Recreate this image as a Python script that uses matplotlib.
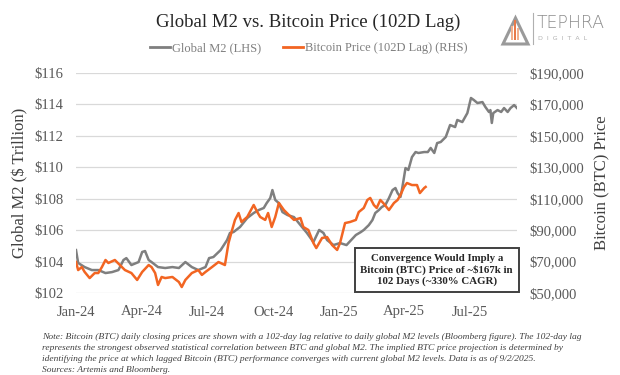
import numpy as np
import matplotlib
matplotlib.use("Agg")
import matplotlib.pyplot as plt
from matplotlib.lines import Line2D
from matplotlib.patches import Polygon, Rectangle
from matplotlib.ticker import FuncFormatter

plt.rcParams['font.family'] = 'serif'
plt.rcParams['font.serif'] = ['Liberation Serif', 'DejaVu Serif']

start = np.datetime64('2024-01-01')

# global M2, $ trillion (days since 2024-01-01)
m2_day = [0, 3, 12, 22, 31, 41, 50, 59, 66, 70, 77, 87, 92, 96, 101, 105, 114, 124,
          134, 143, 152, 161, 170, 180, 185, 191, 201, 210, 214, 219, 228, 238, 247,
          254, 261, 265, 270, 273, 277, 282, 287, 294, 303, 312, 321, 330, 338, 344,
          349, 358, 367, 376, 389, 396, 400, 407, 412, 416, 421, 425, 430, 435, 440,
          444, 447, 451, 453, 456, 458, 462, 467, 472, 476, 484, 489, 493, 498, 502,
          507, 514, 520, 527, 530, 537, 544, 549, 553, 558, 565, 569, 574, 576, 578,
          580, 586, 591, 595, 600, 604, 609, 613]
m2_val = [104.73, 103.91, 103.65, 103.46, 103.46, 103.27, 103.33, 103.46, 104.10, 104.22,
          103.78, 103.97, 104.61, 104.67, 104.10, 103.97, 103.65, 103.59, 103.65, 103.59,
          103.97, 103.65, 103.46, 103.65, 104.22, 104.29, 104.73, 105.37, 105.82, 105.88,
          106.20, 106.77, 107.09, 107.28, 107.41, 107.72, 108.04, 108.55, 107.92, 107.72,
          107.15, 106.96, 106.83, 106.32, 105.82, 105.24, 106.01, 105.82, 105.37, 105.05,
          105.18, 105.05, 105.69, 105.88, 106.01, 106.32, 106.64, 107.09, 107.28, 107.47,
          107.60, 108.04, 108.55, 108.68, 108.36, 108.11, 108.55, 109.38, 109.95, 109.83,
          110.65, 110.97, 110.91, 110.97, 110.97, 111.23, 110.91, 111.54, 111.61, 111.93,
          112.69, 112.56, 113.01, 112.88, 113.45, 114.41, 114.28, 114.09, 114.15, 113.84,
          113.52, 113.64, 112.82, 113.45, 113.64, 113.52, 113.77, 113.52, 113.77, 113.96,
          113.77]

# bitcoin price, 102-day lag, $
btc_day = [0, 3, 8, 12, 19, 26, 31, 36, 41, 45, 54, 61, 68, 77, 85, 92, 101, 105, 110,
           114, 119, 124, 134, 143, 147, 152, 161, 170, 175, 180, 189, 198, 201, 207,
           212, 217, 221, 226, 230, 238, 247, 252, 256, 263, 267, 272, 277, 282, 289,
           296, 303, 312, 316, 323, 330, 334, 342, 349, 356, 363, 367, 374, 381, 389,
           393, 400, 405, 409, 414, 418, 423, 427, 435, 442, 447, 451, 456, 460, 467,
           474, 478, 484, 486]
btc_val = [69700, 64600, 66500, 63400, 59500, 62700, 62700, 66500, 71000, 69100, 71000,
           67800, 64600, 62700, 58300, 63400, 67800, 66500, 62700, 55100, 60200, 59500,
           60200, 57000, 53800, 58300, 62700, 64600, 61500, 63400, 66500, 69700, 69100,
           67800, 81800, 90100, 96500, 100900, 95200, 98400, 106000, 101500, 98400,
           96500, 100900, 92000, 98400, 107300, 102800, 99600, 96500, 97700, 92000,
           90100, 81800, 78600, 85000, 85600, 80500, 77400, 81800, 94500, 95200, 96500,
           101500, 104100, 109200, 110500, 106000, 104100, 109200, 107300, 102800,
           107300, 109200, 112400, 117500, 120000, 118700, 118700, 113600, 116800, 117500]

tick_dates = ['2024-01-01', '2024-04-01', '2024-07-01', '2024-10-01',
              '2025-01-01', '2025-04-01', '2025-07-01']
tick_labels = ['Jan-24', 'Apr-24', 'Jul-24', 'Oct-24', 'Jan-25', 'Apr-25', 'Jul-25']

gray = '#7f7f7f'
orange = '#f26522'
txt = '#404040'

fig = plt.figure(figsize=(6.2, 3.75), dpi=100)
ax = fig.add_axes([76 / 620, 1 - 293 / 375, 441 / 620, 220 / 375])
ax2 = ax.twinx()

m2_x = start + np.array(m2_day).astype('timedelta64[D]')
btc_x = start + np.array(btc_day).astype('timedelta64[D]')

ax.plot(m2_x, m2_val, color=gray, lw=1.8, zorder=3)
ax2.plot(btc_x, btc_val, color=orange, lw=1.8, zorder=4)

ax.set_xlim(start, start + np.timedelta64(613, 'D'))
ax.set_ylim(102, 116)
ax.set_yticks(np.arange(102, 117, 2))
ax.yaxis.set_major_formatter(FuncFormatter(lambda v, p: '$%d' % v))
ax2.set_ylim(50000, 190000)
ax2.set_yticks(np.arange(50000, 190001, 20000))
ax2.yaxis.set_major_formatter(FuncFormatter(lambda v, p: '${:,.0f}'.format(v)))

ax.set_xticks(np.array(tick_dates, dtype='datetime64[D]'))
ax.set_xticklabels(tick_labels)

ax.grid(axis='y', color='#d9d9d9', lw=0.9)
ax.set_axisbelow(True)
for a in (ax, ax2):
    for s in a.spines.values():
        s.set_visible(False)
    a.tick_params(length=0, labelsize=10.5, labelcolor='#595959', pad=9)
ax.tick_params(axis='x', pad=9)

ax.set_ylabel('Global M2 ($ Trillion)', fontsize=12, color=txt, labelpad=4)
ax2.set_ylabel('Bitcoin (BTC) Price', fontsize=12, color=txt, labelpad=7)

fig.text(0.497, 0.94, 'Global M2 vs. Bitcoin Price (102D Lag)', ha='center',
         va='center', fontsize=13.5, color='#262626')

handles = [Line2D([], [], color=gray, lw=2), Line2D([], [], color=orange, lw=2)]
fig.legend(handles, ['Global M2 (LHS)', 'Bitcoin Price (102D Lag) (RHS)'],
           loc='center', bbox_to_anchor=(0.498, 0.872), ncol=2, frameon=False,
           prop={'size': 9}, labelcolor='#7f7f7f', handlelength=1.6,
           handletextpad=0.15, columnspacing=1.8)

ax.text(0.818, 0.105, 'Convergence Would Imply a\nBitcoin (BTC) Price of ~$167k in\n102 Days (~330% CAGR)',
        transform=ax.transAxes, ha='center', va='center', fontsize=7.8,
        fontweight='bold', color='#262626', linespacing=1.25, zorder=10,
        bbox=dict(boxstyle='square,pad=0.55', fc='white', ec='#404040', lw=1.4))

note = ('Note: Bitcoin (BTC) daily closing prices are shown with a 102-day lag relative to daily global M2 levels (Bloomberg figure). The 102-day lag\n'
        'represents the strongest observed statistical correlation between BTC and global M2. The implied BTC price projection is determined by\n'
        'identifying the price at which lagged Bitcoin (BTC) performance converges with current global M2 levels. Data is as of 9/2/2025.\n'
        'Sources: Artemis and Bloomberg.')
fig.text(0.068, 0.058, note, ha='left', va='center', fontsize=6.8, style='italic',
         color='#404040', linespacing=1.5)

# logo
fig.patches.append(Polygon([[503 / 620, 1 - 44 / 375], [528 / 620, 1 - 44 / 375],
                            [515.5 / 620, 1 - 18 / 375]], closed=True, fc='none',
                           ec='#9a9a9a', lw=2.2, transform=fig.transFigure, figure=fig))
for bx, bh, bc in [(511, 14, '#f2b08f'), (514, 20, '#e87a4a'), (517, 12, '#f2b08f')]:
    fig.patches.append(Rectangle((bx / 620, 1 - 40 / 375), 2.2 / 620, bh / 375,
                                 fc=bc, ec='none', transform=fig.transFigure, figure=fig))
fig.lines.append(Line2D([533 / 620, 533 / 620], [1 - 13 / 375, 1 - 44 / 375],
                        color='#b0b0b0', lw=0.8, transform=fig.transFigure))
fig.text(537 / 620, 1 - 23 / 375, 'TEPHRA', family='DejaVu Sans', fontsize=12.5,
         color='#8c8c8c', ha='left', va='center', fontweight='light')
fig.text(538 / 620, 1 - 39 / 375, 'D  I  G  I  T  A  L', family='DejaVu Sans',
         fontsize=4.5, color='#b0b0b0', ha='left', va='center')

fig.savefig('out.png', dpi=100, facecolor='white')
